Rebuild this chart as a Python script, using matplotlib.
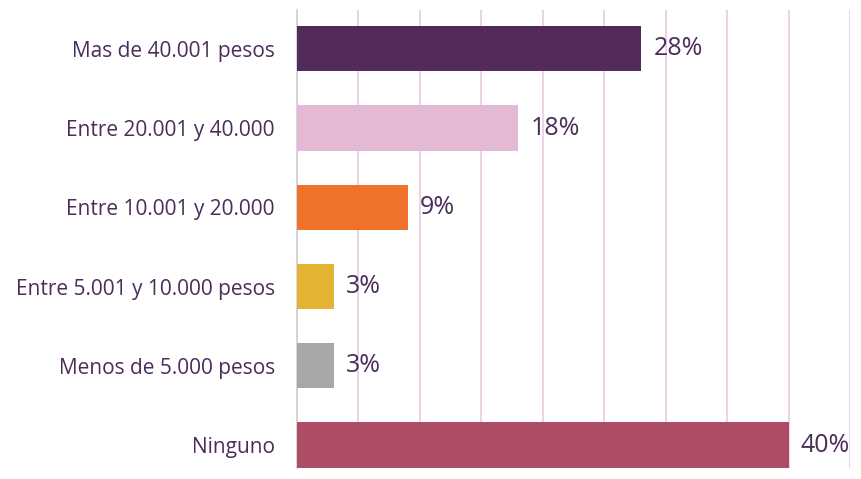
import matplotlib
matplotlib.use("Agg")
import matplotlib.pyplot as plt

categories = [
    "Mas de 40.001 pesos",
    "Entre 20.001 y 40.000",
    "Entre 10.001 y 20.000",
    "Entre 5.001 y 10.000 pesos",
    "Menos de 5.000 pesos",
    "Ninguno",
]
values = [28, 18, 9, 3, 3, 40]
colors = ["#522a5b", "#e4b9d6", "#f0712a", "#e5b334", "#a7a7a7", "#ad4c65"]
grid_ticks = [0, 5, 10, 15, 20, 25, 30, 35, 40, 45]

text_color = "#4b2d5b"
plt.rcParams["font.family"] = ["Open Sans", "DejaVu Sans"]

fig = plt.figure(figsize=(8.62, 4.79), dpi=100)
ax = fig.add_axes([297 / 862, 1 - 468 / 479, (850 - 297) / 862, 458 / 479])

pos = list(range(len(categories)))
ax.barh(pos, values, height=0.57, color=colors, zorder=3)
for p, v in zip(pos, values):
    ax.text(v + 1.0, p, f"{v}%", va="center", ha="left", fontsize=18,
            color=text_color, zorder=4, clip_on=False)

ax.set_xlim(0, 45)
ax.set_ylim(5.29, -0.49)
ax.set_xticks(grid_ticks)
ax.set_xticklabels([])
ax.tick_params(axis="x", length=0)
ax.grid(axis="x", color="#ebc9e3", linewidth=1.2, zorder=0)
ax.set_yticks(pos)
ax.set_yticklabels(categories, fontsize=15, color=text_color)
ax.tick_params(axis="y", length=0, pad=16)

for side in ["top", "right", "bottom"]:
    ax.spines[side].set_visible(False)
ax.spines["left"].set_color("#cfcfcf")
ax.spines["left"].set_linewidth(1.2)

fig.savefig("out.png", dpi=100)
